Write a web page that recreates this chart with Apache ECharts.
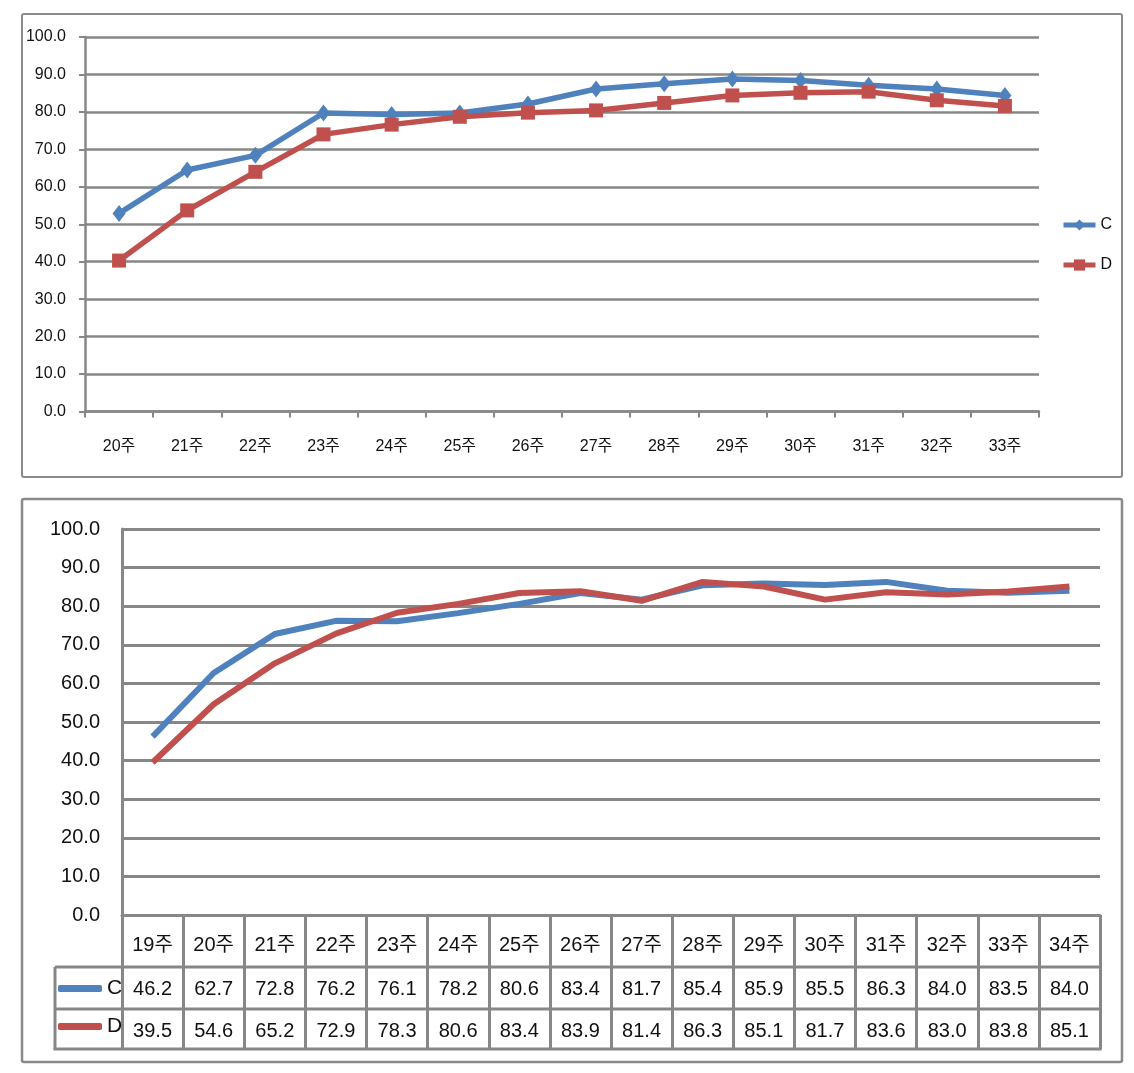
<!DOCTYPE html>
<html>
<head>
<meta charset="utf-8">
<script src="https://cdn.jsdelivr.net/npm/echarts@6/dist/echarts.min.js"></script>
<style>html,body{margin:0;padding:0;background:#fff}#c{width:1134px;height:1073px}</style>
</head>
<body>
<div id="c"></div>
<script>
// ---- data ----
const seriesNames = ['C', 'D'];
const weeksTop = ['20주','21주','22주','23주','24주','25주','26주','27주','28주','29주','30주','31주','32주','33주'];
const cTop = [52.9, 64.5, 68.4, 79.7, 79.3, 79.7, 82.1, 86.1, 87.5, 88.8, 88.4, 87.1, 86.1, 84.4];
const dTop = [40.3, 53.7, 64.0, 74.0, 76.6, 78.7, 79.8, 80.4, 82.4, 84.4, 85.1, 85.4, 83.1, 81.6];
const weeksBottom = ['19주','20주','21주','22주','23주','24주','25주','26주','27주','28주','29주','30주','31주','32주','33주','34주'];
const cBottom = [46.2, 62.7, 72.8, 76.2, 76.1, 78.2, 80.6, 83.4, 81.7, 85.4, 85.9, 85.5, 86.3, 84.0, 83.5, 84.0];
const dBottom = [39.5, 54.6, 65.2, 72.9, 78.3, 80.6, 83.4, 83.9, 81.4, 86.3, 85.1, 81.7, 83.6, 83.0, 83.8, 85.1];
const yMin = 0, yMax = 100, yStep = 10;

// ---- style ----
const BLUE = '#4F81BD', RED = '#C0504D', GRAY = '#878787', TXT = '#111';
const FONT = "'Liberation Sans', 'Noto Sans CJK KR', sans-serif";
const FS_TOP = 16, FS_BOT = 20;

const chart = echarts.init(document.getElementById('c'), null, {renderer: 'canvas'});
const fmt = v => Number(v).toFixed(1);

const T = {x0: 55, x1: 1100, yHead: 915, yRow1: 967, yRow2: 1009, yEnd: 1049};

const rowAxis = (gi, vals) => ({
  gridIndex: gi, type: 'category', data: weeksBottom, boundaryGap: true,
  axisLine: {show: false}, axisTick: {show: false}, splitLine: {show: false},
  axisLabel: {interval: 0, margin: 12, fontFamily: FONT, fontSize: FS_BOT, color: TXT,
    formatter: (v, i) => fmt(vals[i])}
});
const hiddenY = gi => ({gridIndex: gi, type: 'value', min: 0, max: 1, show: false});

chart.setOption({
  animation: false,
  backgroundColor: '#fff',
  grid: [
    {left: 85, right: 95, top: 37, bottom: 661.5},
    {left: 122, right: 34, top: 529, bottom: 158},
    {left: 122, right: 34, top: T.yRow1 - 1, height: 1},
    {left: 122, right: 34, top: T.yRow2 - 1, height: 1}
  ],
  legend: [
    {
      data: seriesNames, orient: 'vertical', left: 1061, top: 217, padding: 0,
      itemWidth: 32, itemHeight: 14, itemGap: 24,
      lineStyle: {width: 5},
      textStyle: {fontFamily: FONT, fontSize: FS_TOP, color: TXT}
    },
    {
      data: [
        {name: 'C', icon: 'roundRect', itemStyle: {color: BLUE}},
        {name: 'D', icon: 'roundRect', itemStyle: {color: RED}}
      ],
      orient: 'vertical', left: 58, top: 978, padding: 0,
      itemWidth: 44, itemHeight: 7, itemGap: 17,
      textStyle: {fontFamily: FONT, fontSize: FS_BOT + 1, color: TXT}
    }
  ],
  xAxis: [
    {
      gridIndex: 0, type: 'category', data: weeksTop, boundaryGap: true,
      axisLine: {lineStyle: {color: GRAY, width: 2.5}},
      axisTick: {show: true, interval: 0, length: 6, lineStyle: {color: GRAY, width: 2}},
      axisLabel: {interval: 0, margin: 27, fontFamily: FONT, fontSize: FS_TOP, color: TXT}
    },
    {
      gridIndex: 1, type: 'category', data: weeksBottom, boundaryGap: true,
      axisLine: {lineStyle: {color: GRAY, width: 3}},
      axisTick: {show: true, interval: 0, length: T.yEnd - T.yHead, lineStyle: {color: GRAY, width: 3}},
      axisLabel: {interval: 0, margin: 20, fontFamily: FONT, fontSize: FS_BOT, color: TXT}
    },
    rowAxis(2, cBottom),
    rowAxis(3, dBottom)
  ],
  yAxis: [
    {
      gridIndex: 0, type: 'value', min: yMin, max: yMax, interval: yStep,
      axisLine: {show: true, lineStyle: {color: GRAY, width: 2.5}},
      axisTick: {show: true, length: 6, lineStyle: {color: GRAY, width: 2}},
      splitLine: {lineStyle: {color: GRAY, width: 2.5}},
      axisLabel: {margin: 19, fontFamily: FONT, fontSize: FS_TOP, color: TXT, formatter: fmt}
    },
    {
      gridIndex: 1, type: 'value', min: yMin, max: yMax, interval: yStep,
      axisLine: {show: true, lineStyle: {color: GRAY, width: 3}},
      axisTick: {show: false},
      splitLine: {lineStyle: {color: GRAY, width: 3}},
      axisLabel: {margin: 22, fontFamily: FONT, fontSize: FS_BOT, color: TXT, formatter: fmt}
    },
    hiddenY(2),
    hiddenY(3)
  ],
  series: [
    {name: 'C', type: 'line', xAxisIndex: 0, yAxisIndex: 0, data: cTop,
     symbol: 'diamond', symbolSize: [13, 17], lineStyle: {color: BLUE, width: 5.5},
     itemStyle: {color: BLUE}},
    {name: 'D', type: 'line', xAxisIndex: 0, yAxisIndex: 0, data: dTop,
     symbol: 'rect', symbolSize: 14, lineStyle: {color: RED, width: 5.5},
     itemStyle: {color: RED}},
    {name: 'C', type: 'line', xAxisIndex: 1, yAxisIndex: 1, data: cBottom,
     symbol: 'none', lineStyle: {color: BLUE, width: 6}, itemStyle: {color: BLUE}},
    {name: 'D', type: 'line', xAxisIndex: 1, yAxisIndex: 1, data: dBottom,
     symbol: 'none', lineStyle: {color: RED, width: 6}, itemStyle: {color: RED}}
  ],
  graphic: [
    {type: 'rect', shape: {x: 22, y: 14, width: 1100, height: 463, r: 2}, style: {fill: 'none', stroke: '#8a8a8a', lineWidth: 2}, silent: true},
    {type: 'rect', shape: {x: 22, y: 499, width: 1100, height: 563, r: 2}, style: {fill: 'none', stroke: '#8a8a8a', lineWidth: 2.5}, silent: true},
    {type: 'line', shape: {x1: T.x0, y1: T.yRow1, x2: T.x1, y2: T.yRow1}, style: {stroke: GRAY, lineWidth: 3}, silent: true},
    {type: 'line', shape: {x1: T.x0, y1: T.yRow2, x2: T.x1, y2: T.yRow2}, style: {stroke: GRAY, lineWidth: 3}, silent: true},
    {type: 'line', shape: {x1: T.x0 - 1.5, y1: T.yEnd, x2: T.x1 + 1.5, y2: T.yEnd}, style: {stroke: GRAY, lineWidth: 3}, silent: true},
    {type: 'line', shape: {x1: T.x0, y1: T.yRow1, x2: T.x0, y2: T.yEnd}, style: {stroke: GRAY, lineWidth: 3}, silent: true}
  ]
});
</script>
</body>
</html>
